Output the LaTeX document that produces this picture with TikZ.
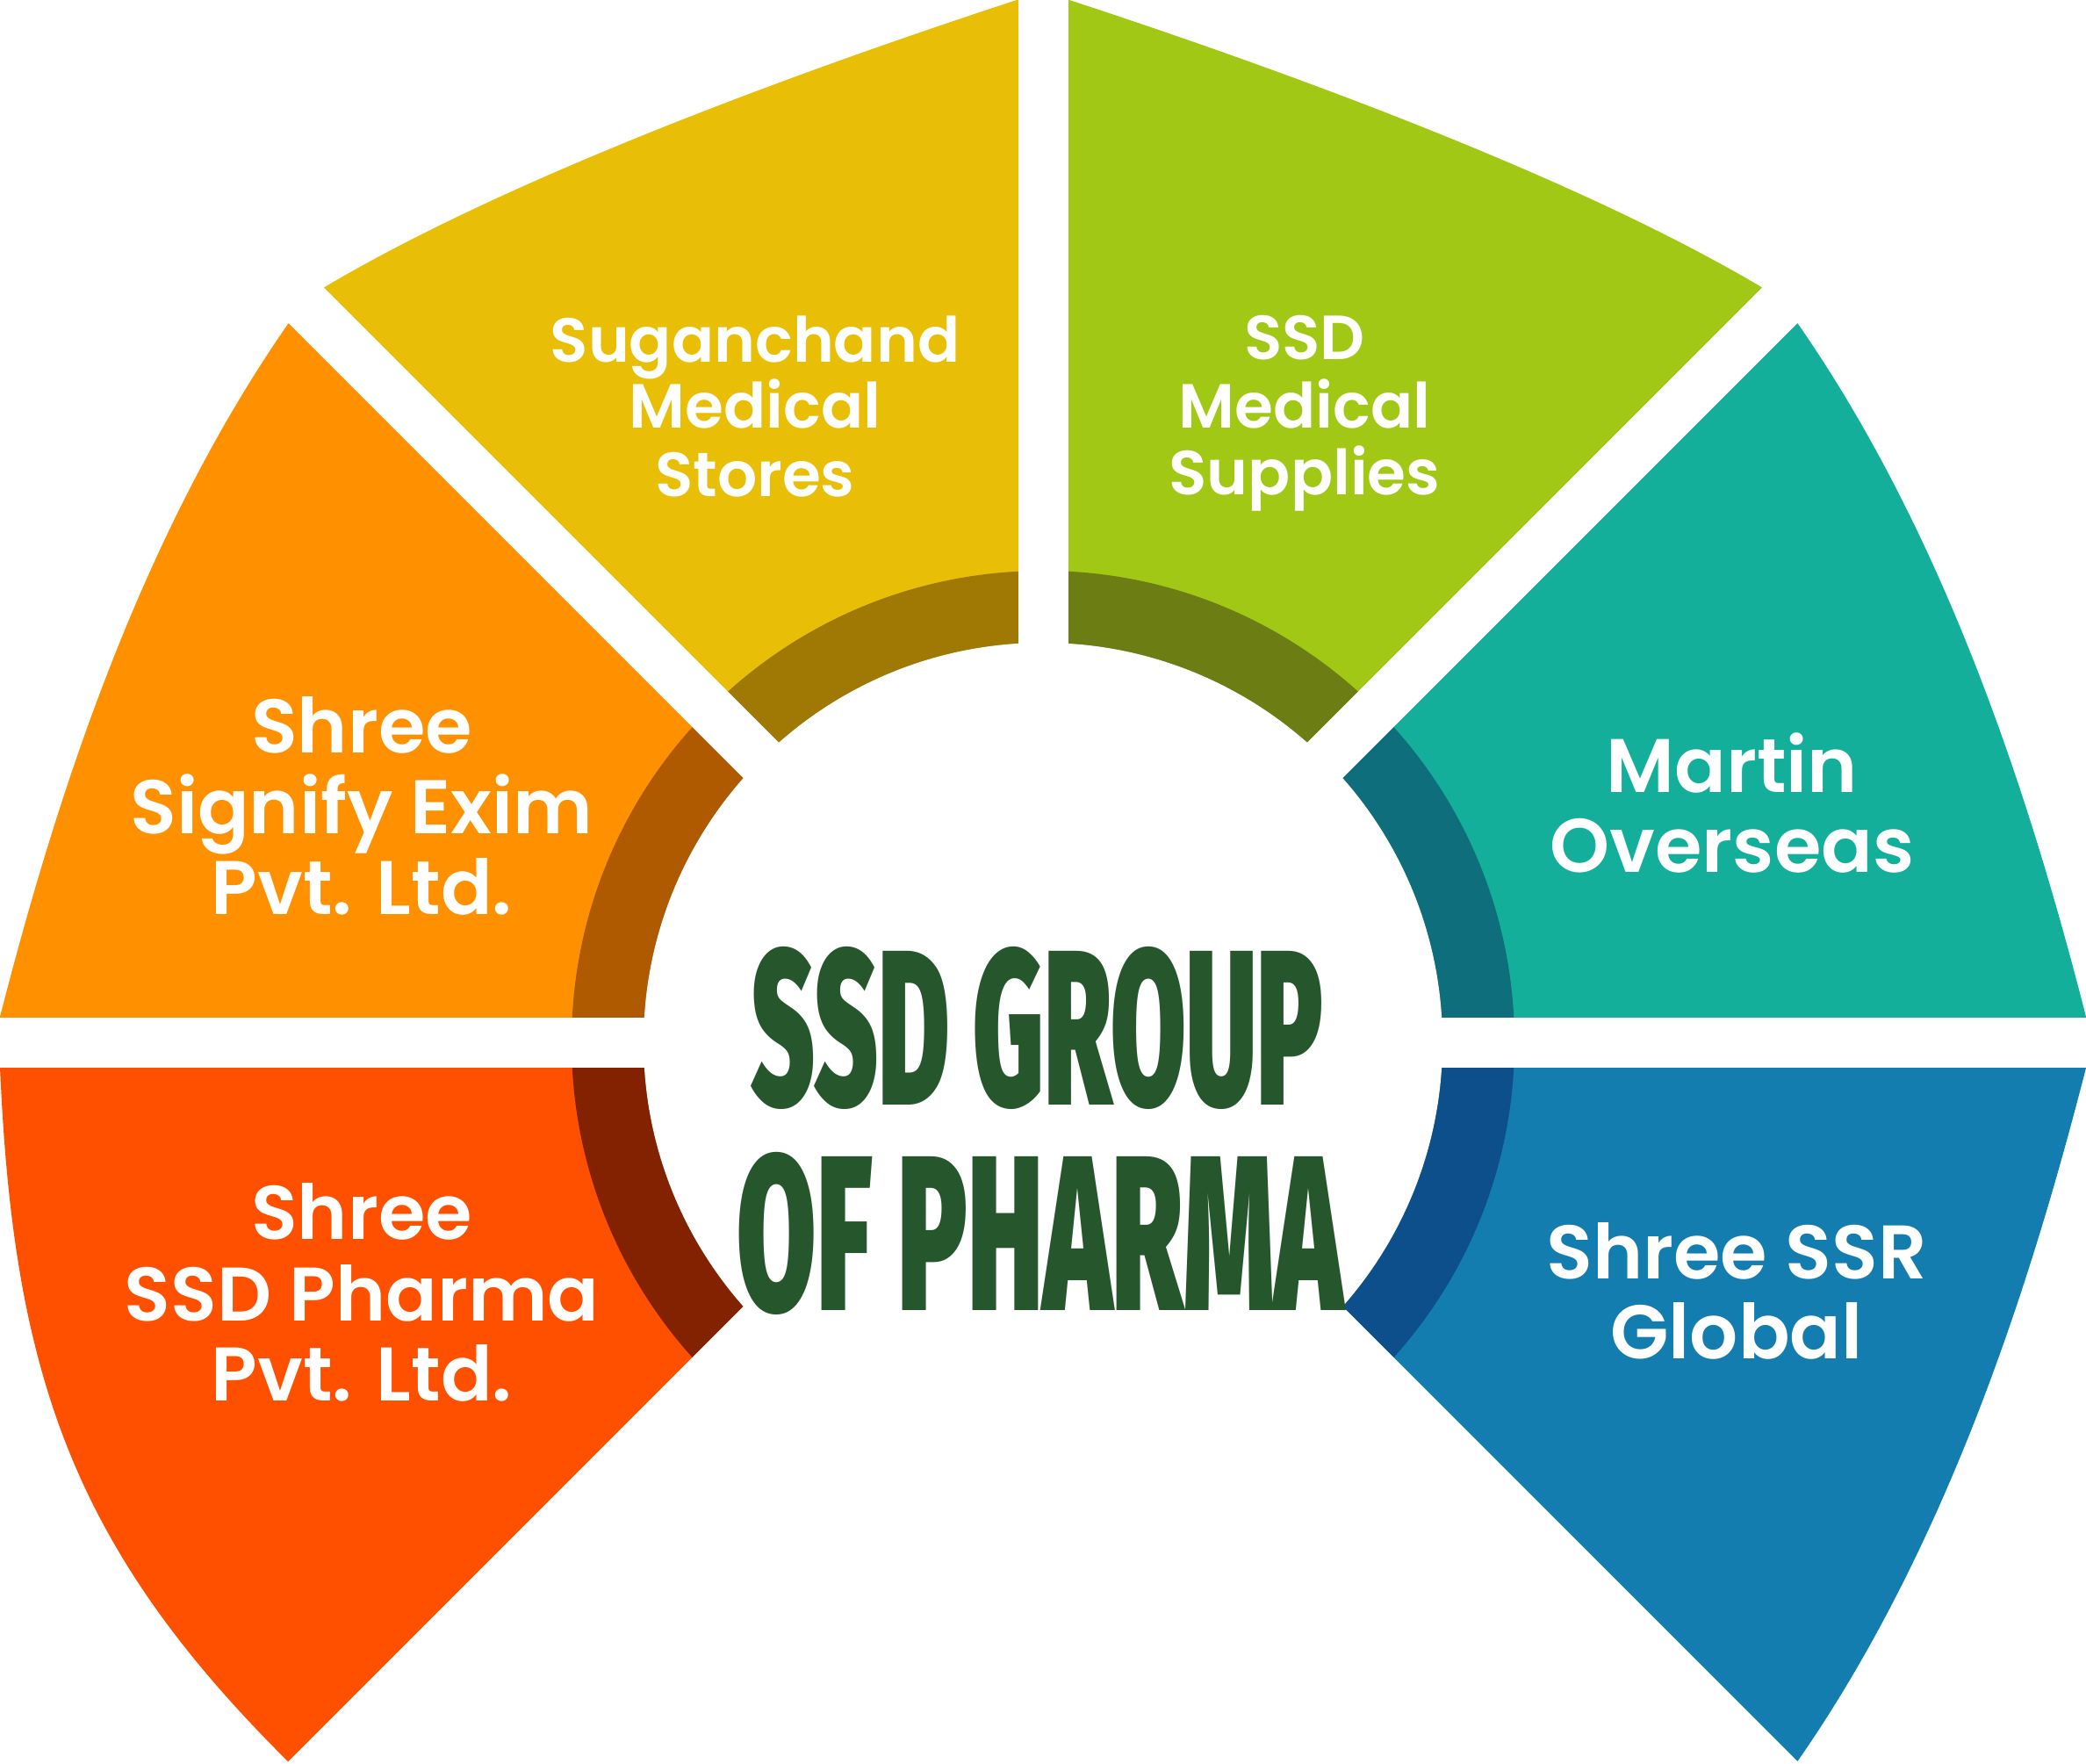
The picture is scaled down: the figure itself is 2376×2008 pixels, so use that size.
\documentclass[tikz,border=0pt]{standalone}
\usepackage{fontspec}
\setmainfont{Poppins}
\IfFontExistsTF{Poppins SemiBold}
  {\newfontfamily\labfont{Poppins SemiBold}}
  {\newfontfamily\labfont{Poppins}[UprightFont=*, UprightFeatures={FakeBold=1.2}]}
\newfontfamily\titlefont{Fira Sans Black}
\definecolor{cYel}{HTML}{E8BF06}
\definecolor{dYel}{HTML}{A07905}
\definecolor{cOra}{HTML}{FF9100}
\definecolor{dOra}{HTML}{AF5A00}
\definecolor{cRed}{HTML}{FF5000}
\definecolor{dRed}{HTML}{832200}
\definecolor{cGre}{HTML}{A0C814}
\definecolor{dGre}{HTML}{6B7D13}
\definecolor{cTea}{HTML}{13AF9A}
\definecolor{dTea}{HTML}{0E6E7B}
\definecolor{cBlu}{HTML}{137DB0}
\definecolor{dBlu}{HTML}{0C4F8A}
\definecolor{cTitle}{HTML}{26562B}
\tikzset{
  gapstrip/.style={draw=white, line width=0.57cm, line cap=butt},
  biglab/.style={text=white, font=\labfont\fontsize{24.6}{27}\selectfont, anchor=base, inner sep=0pt},
  smalllab/.style={text=white, font=\labfont\fontsize{20.2}{22}\selectfont, anchor=base, inner sep=0pt},
  titlelab/.style={text=cTitle, anchor=base, inner sep=0pt}
}
\begin{document}
\begin{tikzpicture}[x=0.01cm,y=-0.01cm]
\fill[white] (0,0) rectangle (2376,2008);
\useasboundingbox (0,0) rectangle (2376,2008);
\coordinate (C) at (1188,1187);
% petals with dark rings
\fill[cYel] (C) -- (348.5,347.5) -- (368,328) .. controls (583,200) and (920,78) .. (1158,0) -- (1188,0) -- cycle;
\begin{scope}\clip (C) -- (348.5,347.5) -- (368,328) .. controls (583,200) and (920,78) .. (1158,0) -- (1188,0) -- cycle;
\fill[dYel] (C) circle (537);\end{scope}
\fill[cGre] (C) -- (2027.5,347.5) -- (2008,328) .. controls (1793,200) and (1456,78) .. (1218,0) -- (1188,0) -- cycle;
\begin{scope}\clip (C) -- (2027.5,347.5) -- (2008,328) .. controls (1793,200) and (1456,78) .. (1218,0) -- (1188,0) -- cycle;
\fill[dGre] (C) circle (537);\end{scope}
\fill[cOra] (C) -- (349,348) -- (328,369) .. controls (157,615) and (62,916) .. (0,1158) -- (0,1187) -- cycle;
\begin{scope}\clip (C) -- (349,348) -- (328,369) .. controls (157,615) and (62,916) .. (0,1158) -- (0,1187) -- cycle;
\fill[dOra] (C) circle (537);\end{scope}
\fill[cTea] (C) -- (2027,348) -- (2048,369) .. controls (2219,615) and (2314,916) .. (2376,1158) -- (2376,1187) -- cycle;
\begin{scope}\clip (C) -- (2027,348) -- (2048,369) .. controls (2219,615) and (2314,916) .. (2376,1158) -- (2376,1187) -- cycle;
\fill[dTea] (C) circle (537);\end{scope}
\fill[cRed] (C) -- (0,1187) -- (0,1215) .. controls (15,1560) and (80,1760) .. (327,2005) -- (348.5,2026.5) -- cycle;
\begin{scope}\clip (C) -- (0,1187) -- (0,1215) .. controls (15,1560) and (80,1760) .. (327,2005) -- (348.5,2026.5) -- cycle;
\fill[dRed] (C) circle (537);\end{scope}
\fill[cBlu] (C) -- (2376,1187) -- (2376,1216) .. controls (2314,1458) and (2219,1759) .. (2048,2005) -- (2027.5,2026.5) -- cycle;
\begin{scope}\clip (C) -- (2376,1187) -- (2376,1216) .. controls (2314,1458) and (2219,1759) .. (2048,2005) -- (2027.5,2026.5) -- cycle;
\fill[dBlu] (C) circle (537);\end{scope}
% gaps
\draw[gapstrip] (-50,1187) -- (2426,1187);
\draw[gapstrip] (1188,-50) -- (C);
\draw[gapstrip] (-350,-351) -- (C) -- (2726,-351);
\draw[gapstrip] (-350,2725) -- (C) -- (2726,2725);
\fill[white] (C) circle (455);
% labels
\node[smalllab] (y1) at (860,412) {Suganchand};
\node[smalllab] (y2) at (860,487) {Medical};
\node[smalllab] (y3) at (860,565) {Stores};
\node[smalllab] (g1) at (1486,409) {SSD};
\node[smalllab] (g2) at (1486,487) {Medical};
\node[smalllab] (g3) at (1486,563) {Supplies};
\node[biglab] (o1) at (412,857) {Shree};
\node[biglab] (o2) at (412,949) {Signify Exim};
\node[biglab] (o3) at (412,1041) {Pvt. Ltd.};
\node[biglab] (r1) at (412,1411) {Shree};
\node[biglab] (r2) at (412,1504) {SSD Pharma};
\node[biglab] (r3) at (412,1595) {Pvt. Ltd.};
\node[biglab] (t1) at (1973,902) {Martin};
\node[biglab] (t2) at (1973,993) {Overseas};
\node[biglab] (b1) at (1978,1456) {Shree SSR};
\node[biglab] (b2) at (1978,1547) {Global};
% title
\node[titlelab] (title1) at (1181,1258) {\resizebox{6.51cm}{1.80cm}{\titlefont SSD GROUP}};
\node[titlelab] (title2) at (1185,1492) {\resizebox{6.90cm}{1.80cm}{\titlefont OF PHARMA}};
\end{tikzpicture}
\end{document}
